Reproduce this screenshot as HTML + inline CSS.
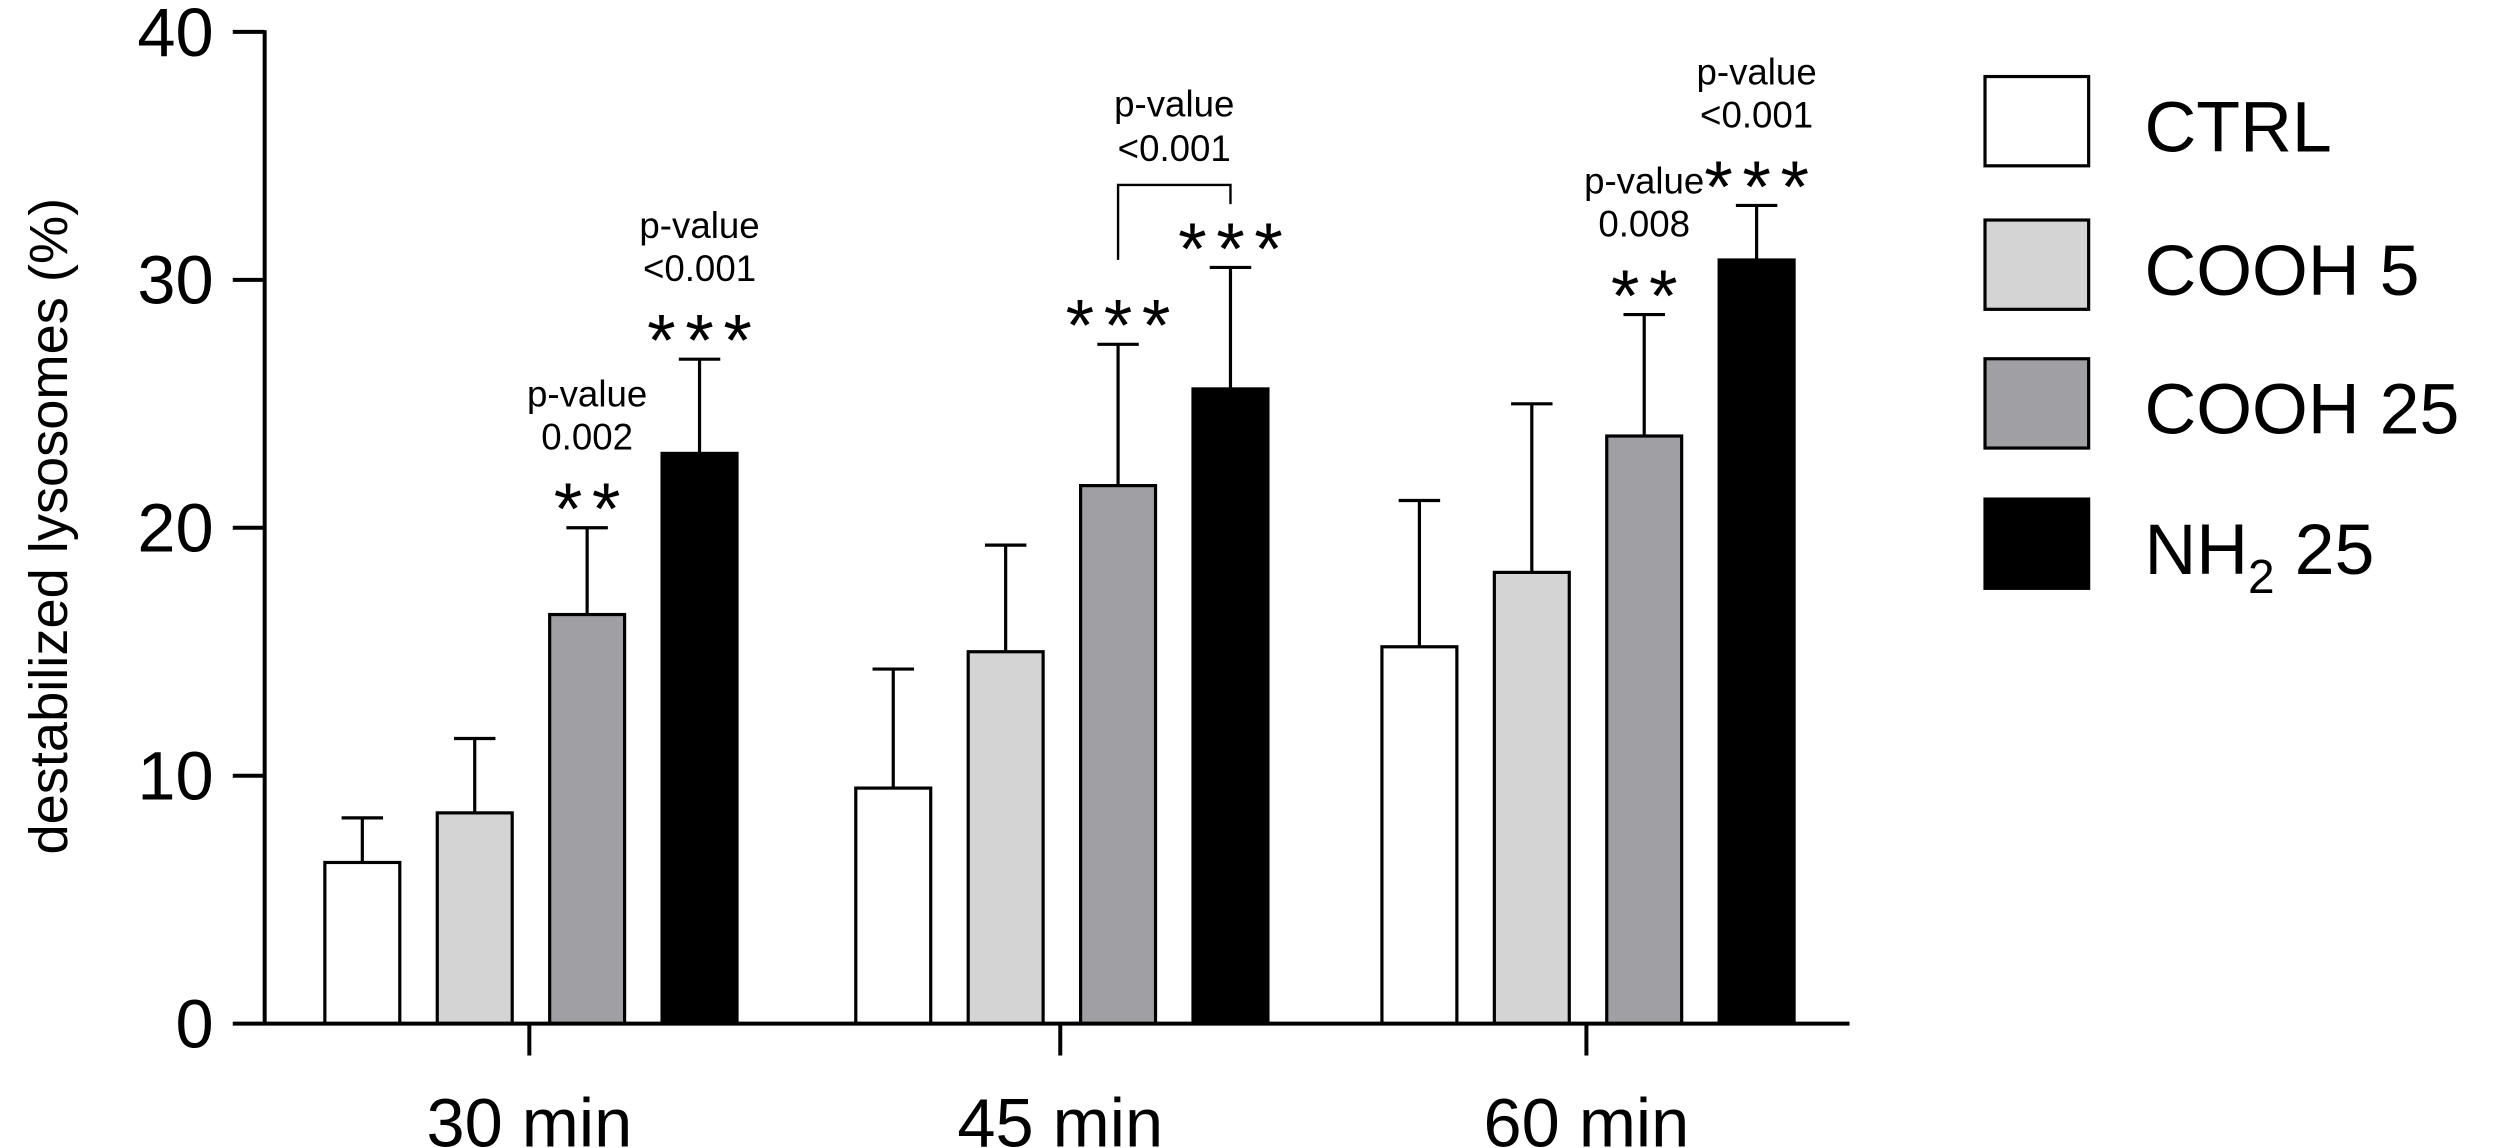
<!DOCTYPE html>
<html><head><meta charset="utf-8"><style>
html,body{margin:0;padding:0;background:#fff;}
svg{display:block;font-family:"Liberation Sans",Arial,sans-serif;}
</style></head><body>
<svg id="chart" width="2500" height="1148" viewBox="0 0 1568 720" preserveAspectRatio="none" xmlns="http://www.w3.org/2000/svg">
<g id="plot"></g>
</svg>
<script>
const groups = ["30 min","45 min","60 min"];
const series = ["CTRL","COOH 5","COOH 25","NH2 25"];
const colors = ["#ffffff","#d4d4d4","#a0a0a4","#000000"];
const ctrlVals = [6.5, 9.5, 15.2];
const cooh5Vals = [8.5, 15.0, 18.2];
const cooh25Vals = [16.5, 21.7, 23.7];
const nh2Vals = [23.0, 25.6, 30.8];
const ctrlErr = [8.3, 14.3, 21.1];
const cooh5Err = [11.5, 19.3, 25.0];
const cooh25Err = [20.0, 27.4, 28.6];
const nh2Err = [26.8, 30.5, 33.0];
const yTicks = [0,10,20,30,40];

const NS="http://www.w3.org/2000/svg";
const g=document.getElementById('plot');
const y0=642, yTop=20, yMax=40;
function yS(v){return y0-(v/yMax)*(y0-yTop);}
const groupCenters=[332,665,995];
const barW=47, barStep=70.5;
function xBar(gi,si){return groupCenters[gi]-2*barStep+ (barStep-barW)/2 + si*barStep + 1;}
function el(tag,attrs,name,inter){const e=document.createElementNS(NS,tag);for(const k in attrs)e.setAttribute(k,attrs[k]);


g.appendChild(e);return e;}
function txt(x,y,s,size,name,anchor){const t=el('text',{x:x,y:y,'font-size':size,'text-anchor':anchor||'middle',fill:'#000'},name,false);t.textContent=s;return t;}

const vals=[ctrlVals,cooh5Vals,cooh25Vals,nh2Vals];
const errs=[ctrlErr,cooh5Err,cooh25Err,nh2Err];
for(let gi=0;gi<groups.length;gi++){
  for(let si=0;si<4;si++){
    const x=xBar(gi,si), v=vals[si][gi], e=errs[si][gi];
    el('line',{x1:x+barW/2,x2:x+barW/2,y1:yS(e),y2:yS(v),stroke:'#000','stroke-width':2},'error-bar',false);
    el('line',{x1:x+barW/2-13,x2:x+barW/2+13,y1:yS(e),y2:yS(e),stroke:'#000','stroke-width':2},'error-cap',false);
    el('rect',{x:x,y:yS(v),width:barW,height:y0-yS(v),fill:colors[si],stroke:'#000','stroke-width':2},'bar',true);
  }
}
// axes
el('line',{x1:166,x2:166,y1:yTop-1,y2:y0+1,stroke:'#000','stroke-width':2.5},'y-axis',false);
el('line',{x1:166,x2:1160,y1:y0,y2:y0,stroke:'#000','stroke-width':2.5},'x-axis',false);
yTicks.forEach(t=>{
  el('line',{x1:146,x2:166,y1:yS(t),y2:yS(t),stroke:'#000','stroke-width':2.5},'y-tick',false);
  txt(134,yS(t)+15,String(t),43,'y-tick-label','end');
});
groups.forEach((gname,gi)=>{
  el('line',{x1:groupCenters[gi],x2:groupCenters[gi],y1:y0,y2:y0+20,stroke:'#000','stroke-width':2.5},'x-tick',false);
  txt(groupCenters[gi],719,gname,43,'x-tick-label');
});
const yl=txt(0,0,'destabilized lysosomes (%)',34,'y-axis-title');
yl.setAttribute('transform','translate(42,330) rotate(-90)');

// annotations
function annot(gi,si,stars,l1,l2){
  const cx=xBar(gi,si)+barW/2, top=yS(errs[si][gi]);
  const s=txt(cx+3,top+4,stars,46,'significance-stars');
  s.setAttribute('letter-spacing','6');
  if(l1){txt(cx,top-76,l1,23,'p-value-label');txt(cx,top-49,l2,23,'p-value-number');}
}
annot(0,2,'**','p-value','0.002');
annot(0,3,'***','p-value','<0.001');
annot(1,2,'***');
annot(1,3,'***');
annot(2,2,'**','p-value','0.008');
annot(2,3,'***','p-value','<0.001');
// bracket 45 min
const bx1=xBar(1,2)+barW/2, bx2=xBar(1,3)+barW/2;
el('path',{d:`M${bx1},163 L${bx1},116 L${bx2},116 L${bx2},128`,fill:'none',stroke:'#000','stroke-width':1.5},'comparison-bracket',false);
txt((bx1+bx2)/2,73,'p-value',23,'p-value-label');
txt((bx1+bx2)/2,101,'<0.001',23,'p-value-number');

// legend
const legY=[48,138,225,313];
series.forEach((s,i)=>{
  el('rect',{x:1245,y:legY[i],width:65,height:56,fill:colors[i],stroke:'#000','stroke-width':2},'legend-swatch',true);
  if(i===3){
    const t=txt(1345,legY[i]+47,'',45,'legend-label','start');
    const a=document.createElementNS(NS,'tspan');a.textContent='NH';t.appendChild(a);
    const b=document.createElementNS(NS,'tspan');b.textContent='2';b.setAttribute('font-size','30');b.setAttribute('dy','12');t.appendChild(b);
    const c=document.createElementNS(NS,'tspan');c.textContent=' 25';c.setAttribute('dy','-12');t.appendChild(c);
  } else txt(1345,legY[i]+47,s,45,'legend-label','start');
});
</script>
</body></html>
